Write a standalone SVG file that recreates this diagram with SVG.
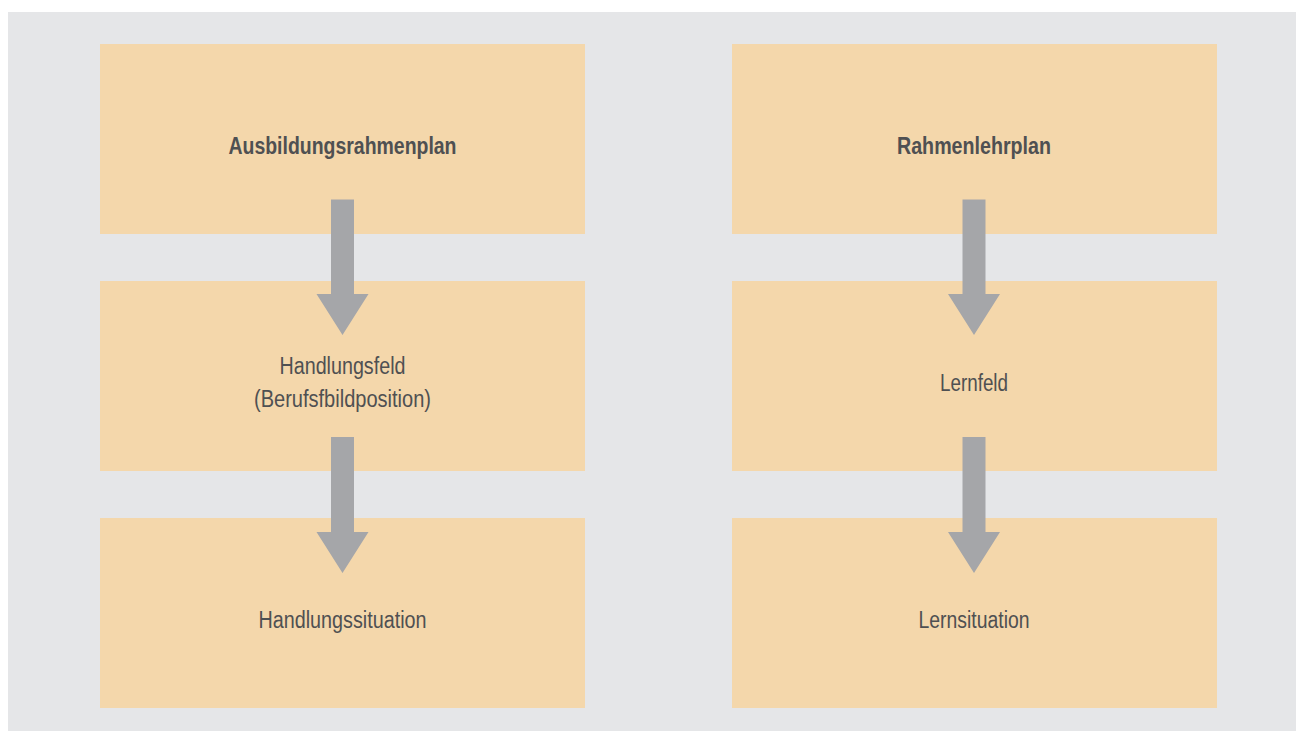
<svg xmlns="http://www.w3.org/2000/svg" width="1296" height="731" viewBox="0 0 1296 731">
<style>
.bg{fill:#e5e6e8}
.box{fill:#f4d7ab}
.arrow{fill:#a5a6a9}
text{font-family:"Liberation Sans",Arial,sans-serif;font-size:23px;fill:#4f5052;text-anchor:middle}
.b{font-weight:bold}
</style>
<rect class="bg" x="8" y="12" width="1288" height="719"/>
<g id="n1"><rect class="box" x="100" y="44" width="485" height="190"/><text class="b" x="342.5" y="153.5" textLength="228" lengthAdjust="spacingAndGlyphs">Ausbildungsrahmenplan</text></g>
<g id="n2"><rect class="box" x="100" y="281" width="485" height="190"/><text x="342.5" y="374" textLength="126" lengthAdjust="spacingAndGlyphs">Handlungsfeld</text><text x="342.5" y="407" textLength="177" lengthAdjust="spacingAndGlyphs">(Berufsfbildposition)</text></g>
<g id="n3"><rect class="box" x="100" y="518" width="485" height="190"/><text x="342.5" y="628" textLength="168" lengthAdjust="spacingAndGlyphs">Handlungssituation</text></g>
<g id="n4"><rect class="box" x="732" y="44" width="485" height="190"/><text class="b" x="974" y="154" textLength="154" lengthAdjust="spacingAndGlyphs">Rahmenlehrplan</text></g>
<g id="n5"><rect class="box" x="732" y="281" width="485" height="190"/><text x="974" y="391" textLength="68" lengthAdjust="spacingAndGlyphs">Lernfeld</text></g>
<g id="n6"><rect class="box" x="732" y="518" width="485" height="190"/><text x="974" y="628" textLength="111" lengthAdjust="spacingAndGlyphs">Lernsituation</text></g>
<g id="connectors">
<path class="arrow" d="M331 199.5H354V294H368.5L342.5 335L316.5 294H331Z"/>
<path class="arrow" d="M331 437H354V532H368.5L342.5 573L316.5 532H331Z"/>
<path class="arrow" d="M962.5 199.5H985.5V294H1000L974 335L948 294H962.5Z"/>
<path class="arrow" d="M962.5 437H985.5V532H1000L974 573L948 532H962.5Z"/>
</g>
</svg>
